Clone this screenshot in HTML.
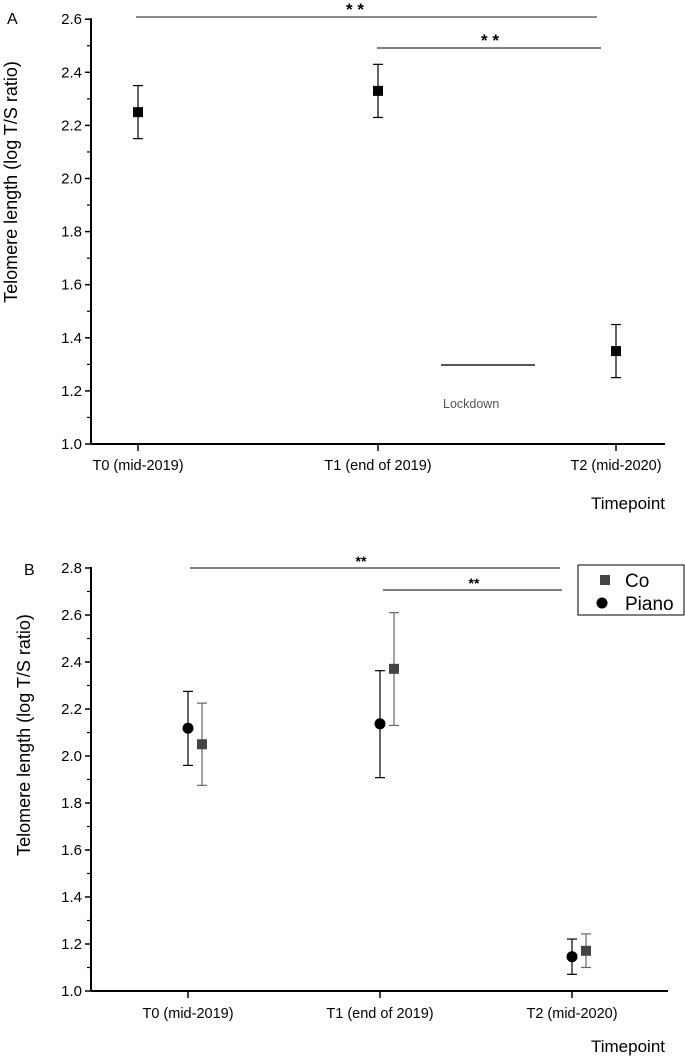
<!DOCTYPE html>
<html><head><meta charset="utf-8"><style>
body{margin:0;background:#fff}
svg text{font-family:"Liberation Sans",Arial,sans-serif}
</style></head><body>
<svg id="s" width="685" height="1059" xmlns="http://www.w3.org/2000/svg"></svg>
<script>
const catsA = ["T0 (mid-2019)","T1 (end of 2019)","T2 (mid-2020)"];
const meanA = [2.25, 2.33, 1.35];
const errA = [0.10, 0.10, 0.10];
const ticksA = [1.0,1.2,1.4,1.6,1.8,2.0,2.2,2.4,2.6];
const catsB = ["T0 (mid-2019)","T1 (end of 2019)","T2 (mid-2020)"];
const pianoMean = [2.118, 2.137, 1.146];
const pianoLo = [1.96, 1.908, 1.071];
const pianoHi = [2.275, 2.363, 1.221];
const coMean = [2.05, 2.371, 1.171];
const coLo = [1.875, 2.13, 1.10];
const coHi = [2.225, 2.61, 1.243];
const ticksB = [1.0,1.2,1.4,1.6,1.8,2.0,2.2,2.4,2.6,2.8];

const s=document.getElementById('s');
function el(t,a,txt){const e=document.createElementNS('http://www.w3.org/2000/svg',t);for(const k in a)e.setAttribute(k,a[k]);if(txt!==undefined)e.textContent=txt;s.appendChild(e);return e;}
function line(x1,y1,x2,y2,c,w){return el('line',{x1,y1,x2,y2,stroke:c||'#000','stroke-width':w||1});}

function axes(yScale,ticks,x0,x1,xs,cats,labY,lab){
  line(x0,yScale(ticks[ticks.length-1])-1,x0,yScale(ticks[0]),'#000',2);
  line(x0,yScale(ticks[0]),x1,yScale(ticks[0]),'#000',2);
  for(let i=0;i<ticks.length;i++){
    const y=yScale(ticks[i]);
    line(x0-6,y,x0,y,'#000',1.5);
    if(i<ticks.length-1){const ym=yScale((ticks[i]+ticks[i+1])/2);line(x0-4,ym,x0,ym,'#000',1.2);}
    const t=el('text',{x:x0-9,y:y+5,'text-anchor':'end','font-size':15},ticks[i].toFixed(1));
    
    
  }
  cats.forEach((c,i)=>{
    line(xs(i),yScale(ticks[0]),xs(i),yScale(ticks[0])+7,'#000',1.5);
    const t=el('text',{x:xs(i),y:labY,'text-anchor':'middle','font-size':14.5},c);
    
    
  });
}

// Panel A
const yA=v=>444-(v-1.0)/0.2*53.1;
const xA=i=>[138,378,616][i];
el('text',{x:7,y:24,'font-size':16,},'A');
axes(yA,ticksA,91,665,xA,catsA,470);
el('text',{x:17,y:182,'font-size':18,'text-anchor':'middle',transform:'rotate(-90 17 182)',},'Telomere length (log T/S ratio)');
el('text',{x:665,y:509,'font-size':17,'text-anchor':'end',},'Timepoint');
line(136,17,597,17,'#444',1.2);
el('text',{x:355,y:15,'font-size':17,'font-weight':'bold','text-anchor':'middle',},'* *');
line(377,48,601,48,'#555',1.5);
el('text',{x:490,y:46,'font-size':17,'font-weight':'bold','text-anchor':'middle',},'* *');
line(441,365,535,365,'#555',2);
el('text',{x:443,y:408,'font-size':12.5,fill:'#555',},'Lockdown');
meanA.forEach((m,i)=>{
  const x=xA(i);
  line(x,yA(m+errA[i]),x,yA(m-errA[i]),'#000',1.2);
  line(x-5,yA(m+errA[i]),x+5,yA(m+errA[i]),'#000',1.2);
  line(x-5,yA(m-errA[i]),x+5,yA(m-errA[i]),'#000',1.2);
  const r=el('rect',{x:x-5,y:yA(m)-5,width:10,height:10,fill:'#000'});
  
  
});

// Panel B
const yB=v=>991-(v-1.0)/0.2*47;
const xB=i=>[188,380,572][i];
el('text',{x:24,y:575,'font-size':16,},'B');
axes(yB,ticksB,91,668,xB,catsB,1018);
el('text',{x:30,y:735,'font-size':18,'text-anchor':'middle',transform:'rotate(-90 30 735)',},'Telomere length (log T/S ratio)');
el('text',{x:665,y:1052,'font-size':17,'text-anchor':'end',},'Timepoint');
line(190,568,560,568,'#000',1);
el('text',{x:361,y:566,'font-size':14,'font-weight':'bold','text-anchor':'middle',},'**');
line(383,590,562,590,'#000',1);
el('text',{x:474,y:588,'font-size':14,'font-weight':'bold','text-anchor':'middle',},'**');
function eb(x,lo,hi,c){line(x,yB(hi),x,yB(lo),c,1.2);line(x-5,yB(hi),x+5,yB(hi),c,1.2);line(x-5,yB(lo),x+5,yB(lo),c,1.2);}
pianoMean.forEach((m,i)=>{
  const x=xB(i);
  eb(x,pianoLo[i],pianoHi[i],'#000');
  const c=el('circle',{cx:x,cy:yB(m),r:5.5,fill:'#000'});
  
  
});
coMean.forEach((m,i)=>{
  const x=xB(i)+14;
  eb(x,coLo[i],coHi[i],'#666');
  const r=el('rect',{x:x-5,y:yB(m)-5,width:10,height:10,fill:'#444'});
  
  
});
el('rect',{x:578,y:565,width:106,height:50,fill:'#fff',stroke:'#000','stroke-width':1,});
el('rect',{x:600,y:575,width:10,height:10,fill:'#444',});
el('text',{x:625,y:587,'font-size':19,},'Co');
el('circle',{cx:602,cy:603,r:5.5,fill:'#000',});
el('text',{x:625,y:610,'font-size':19,},'Piano');
</script>
</body></html>
